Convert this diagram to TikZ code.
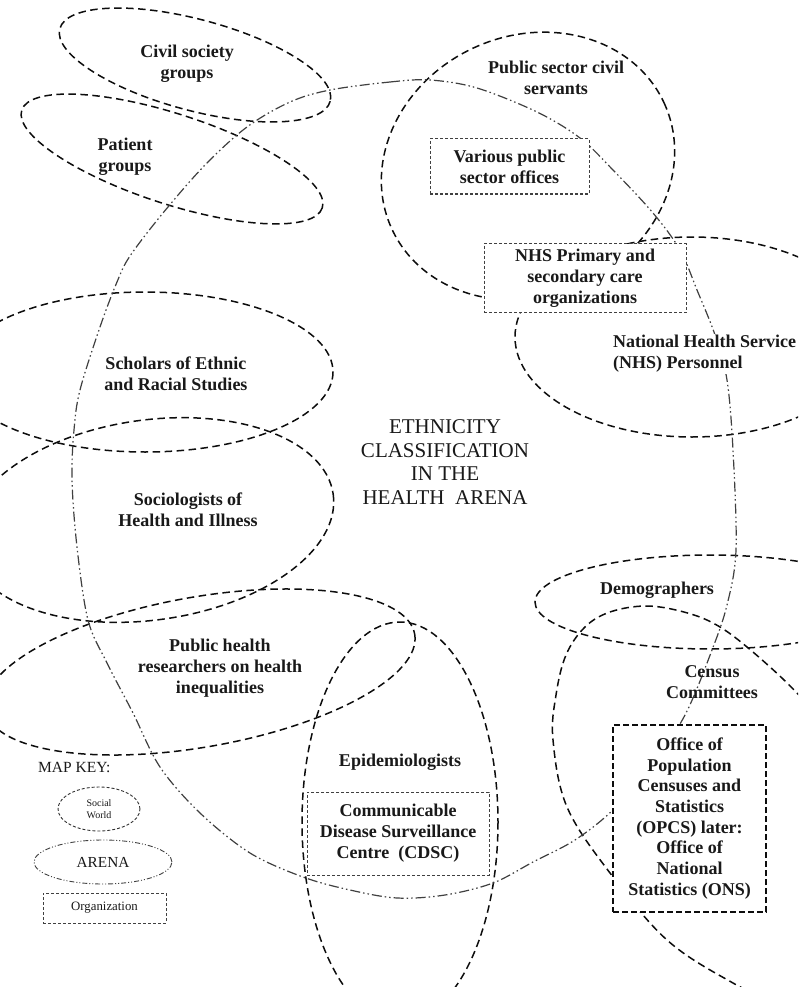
\documentclass[tikz,border=0pt]{standalone}
\usepackage{fontspec}
\setmainfont{Liberation Serif}
\usetikzlibrary{shapes.geometric}
\begin{document}
\begin{tikzpicture}[x=1pt,y=-1pt,
  sw/.style={draw=black!95, line width=1.5pt, dash pattern=on 7.5pt off 4.5pt},
  arenaline/.style={draw=black!75, line width=1.2pt, dash pattern=on 10pt off 3pt on 1.5pt off 3pt on 1.5pt off 3pt},
  orgbox/.style={draw=black!75, fill=white, line width=1pt, dash pattern=on 3pt off 2pt, inner sep=0pt},
  bigbox/.style={draw=black!95, fill=white, line width=1.4pt, dash pattern=on 6pt off 3pt, inner sep=0pt},
  lbl/.style={font=\fontsize{18}{21}\selectfont\bfseries, text=black!90, align=center},
]
\useasboundingbox (0,0) rectangle (798,987);
\fill[white] (0,0) rectangle (798,987);
\begin{scope}
\clip (0,0) rectangle (798,987);
% social worlds
\draw[sw, rotate around={-15:(195,65)}] (195,65) ellipse [x radius=140, y radius=45.5];
\draw[sw, rotate around={-18:(172,159)}] (172,159) ellipse [x radius=158, y radius=45];
\draw[sw, rotate around={25:(528,166)}] (528,166) ellipse [x radius=150, y radius=130];
\draw[sw] (692,337) ellipse [x radius=177, y radius=100];
\draw[sw] (145,372) ellipse [x radius=188, y radius=80];
\draw[sw, rotate around={8:(150,520)}] (150,520) ellipse [x radius=185, y radius=100];
\draw[sw, rotate around={10:(200,672)}] (200,672) ellipse [x radius=218, y radius=75];
\draw[sw] (400,822) ellipse [x radius=98, y radius=200];
\draw[sw] (710,602) ellipse [x radius=175, y radius=47];
\draw[sw] plot[smooth, tension=0.6] coordinates {(840,745) (797,693) (747,647) (713,623) (680,611) (645,606) (610,612) (585,627) (566,655) (556,695) (553,740) (567,807) (610,873) (667,940) (733,983) (790,1010)};
% arena
\draw[arenaline] plot[smooth cycle, tension=0.55] coordinates {(330,90) (390,82) (430,80) (477,88) (537,112) (580,138) (613,170) (653,213) (680,250) (697,290) (715,335) (727,380) (733,450) (736,550) (727,605) (712,650) (685,715) (650,768) (613,810) (575,840) (533,862) (493,883) (445,895) (397,898) (350,890) (303,877) (250,853) (200,813) (160,767) (133,713) (107,663) (88,620) (77,547) (72,480) (74,430) (80,390) (100,327) (117,282) (130,256) (163,213) (205,165) (247,127) (290,102)};
\end{scope}
% labels of social worlds
\node[lbl] (civil) at (187,64) {Civil society\\groups};
\node[lbl] (patient) at (125,157) {Patient\\groups};
\node[lbl] (pubsec) at (556,78) {Public sector civil\\servants};
\node[lbl, anchor=west, align=left, fill=white, inner sep=1pt] (nhspers) at (612,354) {National Health Service\\(NHS) Personnel};
\node[lbl] (scholars) at (176,374) {Scholars of Ethnic\\and Racial Studies};
\node[lbl] (socio) at (188,510) {Sociologists of\\Health and Illness};
\node[lbl] (pubhealth) at (220,668) {Public health\\researchers on health\\inequalities};
\node[lbl] (epi) at (400,762) {Epidemiologists};
\node[lbl] (demog) at (657,590) {Demographers};
\node[lbl] (census) at (712,682) {Census\\Committees};
\node[font=\fontsize{21}{23.5}\selectfont, text=black!90, align=center] (title) at (445,462) {ETHNICITY\\CLASSIFICATION\\IN THE\\HEALTH\ \ ARENA};
% organizations
\node[orgbox, lbl, minimum width=159pt, minimum height=55pt] (various) at (509.5,166.5) {Various public\\sector offices};
\node[orgbox, lbl, minimum width=202pt, minimum height=69pt] (nhsorg) at (585,278) {NHS Primary and\\secondary care\\organizations};
\node[orgbox, lbl, minimum width=182pt, minimum height=83pt] (cdsc) at (398,833.5) {Communicable\\Disease Surveillance\\Centre\ \ (CDSC)};
\node[bigbox, lbl, font=\fontsize{18}{20.7}\selectfont\bfseries, minimum width=153pt, minimum height=187pt] (opcs) at (689.5,818.5) {Office of\\Population\\Censuses and\\Statistics\\(OPCS) later:\\Office of\\National\\Statistics (ONS)};
% map key
\node[anchor=west, font=\fontsize{15.5}{18}\selectfont, text=black!90, inner sep=0pt] (mapkey) at (38,767) {MAP KEY:};
\node[ellipse, draw=black!80, line width=0.9pt, dash pattern=on 3pt off 2pt, minimum width=82pt, minimum height=44pt, inner sep=0pt, align=center, font=\fontsize{10}{11.5}\selectfont, text=black!90] (keysw) at (99,809) {Social\\World};
\node[ellipse, draw=black!75, line width=0.9pt, dash pattern=on 5pt off 2pt on 1pt off 2pt on 1pt off 2pt, minimum width=138pt, minimum height=44pt, inner sep=0pt, font=\fontsize{15.3}{18}\selectfont, text=black!90] (keyarena) at (103,862) {ARENA};
\node[draw=black!75, line width=1pt, dash pattern=on 3pt off 2pt, minimum width=123pt, minimum height=30pt, inner sep=0pt, font=\fontsize{12.8}{15}\selectfont, text=black!90] (keyorg) at (104.5,908) {Organization};
\end{tikzpicture}
\end{document}
